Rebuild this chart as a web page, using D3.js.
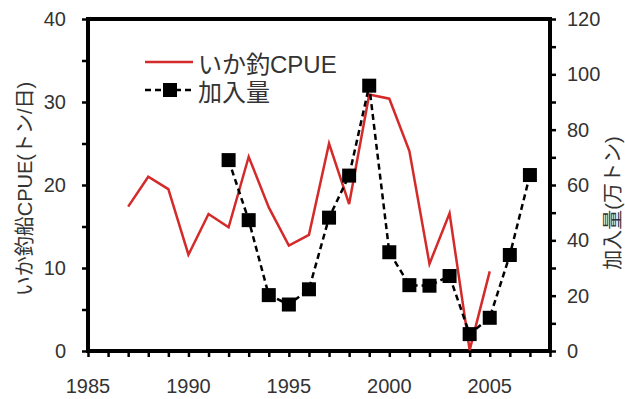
<!DOCTYPE html>
<html lang="ja">
<head>
<meta charset="UTF-8">
<title>いか釣CPUE と 加入量</title>
<script src="https://d3js.org/d3.v7.min.js"></script>
<style>
  body { margin: 0; background: #fff; }
  text { font-family: "Liberation Sans", "Noto Sans CJK JP", sans-serif; fill: #333; }
</style>
</head>
<body>
<script>
// CPUE of squid jigging boats (t/day) - left axis
const cpueYears = [1987, 1988, 1989, 1990, 1991, 1992, 1993, 1994, 1995, 1996, 1997, 1998, 1999, 2000, 2001, 2002, 2003, 2004, 2005];
const cpueValues = [17.4, 21.0, 19.5, 11.6, 16.5, 14.9, 23.4, 17.3, 12.7, 14.0, 25.0, 17.7, 30.9, 30.4, 24.1, 10.5, 16.6, 0.1, 9.6];

// recruitment (10,000 t) - right axis
const recYears = [1992, 1993, 1994, 1995, 1996, 1997, 1998, 1999, 2000, 2001, 2002, 2003, 2004, 2005, 2006, 2007];
const recValues = [69.0, 47.3, 20.2, 16.8, 22.3, 48.2, 63.4, 95.9, 35.7, 23.8, 23.6, 27.1, 6.1, 12.0, 34.7, 63.6];

const xTickLabels = [1985, 1990, 1995, 2000, 2005];
const leftTickLabels = [0, 10, 20, 30, 40];
const rightTickLabels = [0, 20, 40, 60, 80, 100, 120];

const W = 625, H = 399;
const mLeft = 88, mRight = 550, mTop = 19, mBottom = 351;

const svg = d3.select('body').append('svg').attr('width', W).attr('height', H);

const x = d3.scaleLinear().domain([1985, 2008]).range([mLeft, mRight]);
const yL = d3.scaleLinear().domain([0, 40]).range([mBottom, mTop]);
const yR = d3.scaleLinear().domain([0, 120]).range([mBottom, mTop]);

// axes with ticks only, labels placed separately
const tickStyle = g => {
  g.select('.domain').remove();
  g.selectAll('.tick line').attr('stroke', '#000').attr('stroke-width', 2.5);
  g.selectAll('.tick text').remove();
};

svg.append('g').attr('transform', `translate(0,${mBottom})`)
  .call(d3.axisBottom(x).tickValues(d3.range(1985, 2009)).tickSize(6)).call(tickStyle);
svg.append('g').attr('transform', `translate(${mLeft},0)`)
  .call(d3.axisLeft(yL).tickValues(d3.range(0, 41, 5)).tickSize(6)).call(tickStyle);
svg.append('g').attr('transform', `translate(${mRight},0)`)
  .call(d3.axisRight(yR).tickValues(d3.range(0, 121, 10)).tickSize(6)).call(tickStyle);

// frame
svg.append('rect')
  .attr('x', mLeft).attr('y', mTop)
  .attr('width', mRight - mLeft).attr('height', mBottom - mTop)
  .attr('fill', 'none').attr('stroke', '#000').attr('stroke-width', 4);

// tick labels
svg.append('g').selectAll('text').data(xTickLabels).join('text')
  .attr('x', d => x(d)).attr('y', 393)
  .attr('text-anchor', 'middle').attr('font-size', 20)
  .text(d => d);

svg.append('g').selectAll('text').data(leftTickLabels).join('text')
  .attr('x', 66).attr('y', d => yL(d) + 7)
  .attr('text-anchor', 'end').attr('font-size', 20)
  .text(d => d);

svg.append('g').selectAll('text').data(rightTickLabels).join('text')
  .attr('x', 567).attr('y', d => yR(d) + 7)
  .attr('text-anchor', 'start').attr('font-size', 20)
  .text(d => d);

// axis titles
svg.append('text')
  .attr('transform', 'translate(32,189) rotate(-90)')
  .attr('text-anchor', 'middle').attr('font-size', 20)
  .text('いか釣船CPUE(トン/日)');

svg.append('text')
  .attr('transform', 'translate(620,203) rotate(-90)')
  .attr('text-anchor', 'middle').attr('font-size', 20)
  .text('加入量(万トン)');

// CPUE line
const cpueLine = d3.line().x((d, i) => x(cpueYears[i])).y(d => yL(d));
svg.append('path')
  .datum(cpueValues)
  .attr('d', cpueLine)
  .attr('fill', 'none').attr('stroke', '#d42a2a').attr('stroke-width', 2.5);

// recruitment dashed line + squares
const recLine = d3.line().x((d, i) => x(recYears[i])).y(d => yR(d));
svg.append('path')
  .datum(recValues)
  .attr('d', recLine)
  .attr('fill', 'none').attr('stroke', '#000').attr('stroke-width', 2.5)
  .attr('stroke-dasharray', '6,4');

const sq = 14;
svg.append('g').selectAll('rect').data(recValues).join('rect')
  .attr('x', (d, i) => x(recYears[i]) - sq / 2)
  .attr('y', d => yR(d) - sq / 2)
  .attr('width', sq).attr('height', sq)
  .attr('fill', '#000');

// legend
const lg = svg.append('g');
lg.append('line').attr('x1', 145).attr('x2', 193).attr('y1', 62).attr('y2', 62)
  .attr('stroke', '#d42a2a').attr('stroke-width', 2.5);
lg.append('text').attr('x', 198).attr('y', 73).attr('font-size', 24).text('いか釣CPUE');

lg.append('line').attr('x1', 145).attr('x2', 193).attr('y1', 90).attr('y2', 90)
  .attr('stroke', '#000').attr('stroke-width', 2.5).attr('stroke-dasharray', '6,4');
lg.append('rect').attr('x', 170 - sq / 2).attr('y', 90 - sq / 2)
  .attr('width', sq).attr('height', sq).attr('fill', '#000');
lg.append('text').attr('x', 198).attr('y', 101).attr('font-size', 24).text('加入量');
</script>
</body>
</html>
